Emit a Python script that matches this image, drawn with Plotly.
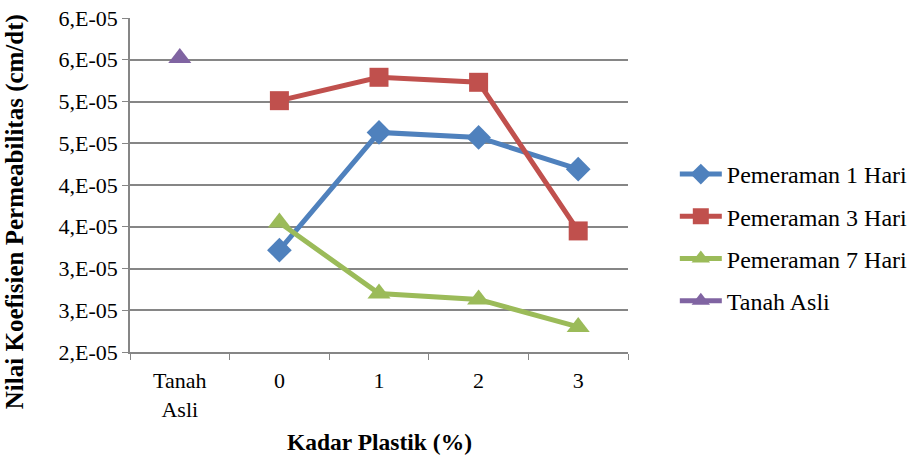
import plotly.graph_objects as go

# Categories on the x axis
categories = ["Tanah<br>Asli", "0", "1", "2", "3"]
kadar = ["0", "1", "2", "3"]

# Permeability coefficient (cm/dt) per curing time
pemeraman_1 = [3.22e-5, 4.63e-5, 4.57e-5, 4.19e-5]
pemeraman_3 = [5.01e-5, 5.29e-5, 5.23e-5, 3.45e-5]
pemeraman_7 = [3.55e-5, 2.70e-5, 2.63e-5, 2.30e-5]
tanah_asli = [5.52e-5]

# Y axis ticks and their labels
y_ticks = [2.0e-5, 2.5e-5, 3.0e-5, 3.5e-5, 4.0e-5, 4.5e-5, 5.0e-5, 5.5e-5, 6.0e-5]
y_labels = ["2,E-05", "3,E-05", "3,E-05", "4,E-05", "4,E-05",
            "5,E-05", "5,E-05", "6,E-05", "6,E-05"]

FONT = "Times New Roman, Liberation Serif, DejaVu Serif, serif"
x_kadar = [categories[categories.index(k)] for k in kadar]

fig = go.Figure()
fig.add_trace(go.Scatter(
    x=x_kadar, y=pemeraman_1, name="Pemeraman 1 Hari", mode="lines+markers",
    line=dict(color="#4F81BD", width=5),
    marker=dict(symbol="diamond", size=19, color="#4F81BD"),
    legendgroup="a"))
fig.add_trace(go.Scatter(
    x=x_kadar, y=pemeraman_3, name="Pemeraman 3 Hari", mode="lines+markers",
    line=dict(color="#C0504D", width=5),
    marker=dict(symbol="square", size=19, color="#C0504D"),
    legendgroup="b"))
fig.add_trace(go.Scatter(
    x=x_kadar, y=pemeraman_7, name="Pemeraman 7 Hari", mode="lines+markers",
    line=dict(color="#9BBB59", width=5),
    marker=dict(symbol="triangle-up", size=20, color="#9BBB59"),
    legendgroup="c"))
fig.add_trace(go.Scatter(
    x=[categories[0]], y=tanah_asli, name="Tanah Asli", mode="lines+markers",
    line=dict(color="#8064A2", width=5),
    marker=dict(symbol="triangle-up", size=20, color="#8064A2"),
    legendgroup="d"))

fig.update_layout(
    width=909, height=458,
    margin=dict(l=130, r=281, t=18, b=106, autoexpand=False),
    paper_bgcolor="white", plot_bgcolor="white",
    font=dict(family=FONT, size=22, color="black"),
    legend=dict(
        x=1.094, xanchor="left", y=0.343, yanchor="middle",
        font=dict(family=FONT, size=24, color="black"),
        tracegroupgap=8, itemwidth=42, bgcolor="rgba(0,0,0,0)",
    ),
    xaxis=dict(
        type="category", categoryorder="array", categoryarray=categories,
        range=[-0.5, 4.5], tickson="boundaries", automargin=False,
        showgrid=False, showline=True, linecolor="#868686", linewidth=1.5,
        ticks="outside", ticklen=6, tickcolor="#868686",
        tickfont=dict(family=FONT, size=22), ticklabelstandoff=8,
    ),
    yaxis=dict(
        range=[2.0e-5, 6.0e-5], tickvals=y_ticks, ticktext=y_labels,
        automargin=False,
        showgrid=True, gridcolor="#868686", gridwidth=1.5,
        showline=True, linecolor="#868686", linewidth=1.5,
        ticks="outside", ticklen=6, tickcolor="#868686",
        tickfont=dict(family=FONT, size=22),
        zeroline=False,
    ),
    annotations=[
        dict(text="<b>Kadar Plastik (%)</b>", xref="paper", yref="paper",
             x=0.5, y=-0.268, xanchor="center", yanchor="middle",
             showarrow=False, font=dict(family=FONT, size=23.5)),
        dict(text="<b>Nilai Koefisien Permeabilitas (cm/dt)</b>",
             xref="paper", yref="paper", x=-0.232, y=0.42,
             xanchor="center", yanchor="middle", textangle=-90,
             showarrow=False, font=dict(family=FONT, size=25)),
    ],
)

fig.write_html("out.html")
